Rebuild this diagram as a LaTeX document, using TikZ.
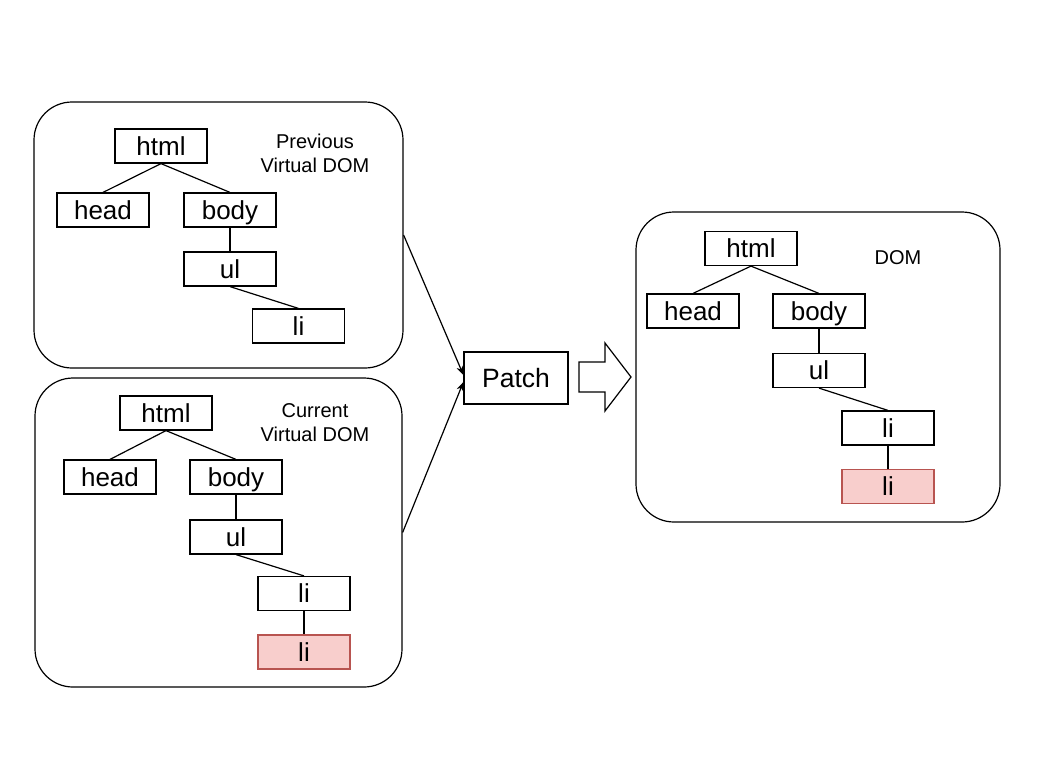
\documentclass[tikz,border=0pt]{standalone}
\usepackage{fontspec}
\setmainfont{Liberation Sans}
\usetikzlibrary{arrows.meta}
\definecolor{redfill}{HTML}{F8CECC}
\definecolor{redline}{HTML}{B85450}
\begin{document}
\begin{tikzpicture}[x=1pt,y=-1pt,line width=1.2pt,
  box/.style={draw, minimum width=92pt, minimum height=34pt, inner sep=0pt,
    text height=18.5pt, text depth=0pt, font=\fontsize{26}{26}\selectfont},
  newbox/.style={box, draw=redline, fill=redfill},
  panel/.style={draw, rounded corners=38pt, inner sep=0pt},
  caption/.style={font=\fontsize{20}{24}\selectfont, align=center},
  link/.style={line width=1.2pt},
  feed/.style={line width=1.2pt, -{Stealth[length=9pt,width=7pt]}}]
\useasboundingbox (0,0) rectangle (1040,780);
% panels
\node[panel, minimum width=369pt, minimum height=266pt] (p1) at (218.5,235) {};
\node[panel, minimum width=367pt, minimum height=309pt] (p2) at (218.5,532.5) {};
\node[panel, minimum width=364pt, minimum height=310pt] (p3) at (818,367) {};
% previous virtual DOM
\node[box] (a1) at (161,146) {html};
\node[box] (a2) at (103,210) {head};
\node[box] (a3) at (230,210) {body};
\node[box] (a4) at (230,269) {ul};
\node[box] (a5) at (298.5,326) {li};
\node[caption] (ta) at (315,153) {Previous\\Virtual DOM};
\draw[link] (a1.south) -- (a2.north);
\draw[link] (a1.south) -- (a3.north);
\draw[link] (a3.south) -- (a4.north);
\draw[link] (a4.south) -- (a5.north);
% current virtual DOM
\node[box] (b1) at (166,413) {html};
\node[box] (b2) at (110,477) {head};
\node[box] (b3) at (236,477) {body};
\node[box] (b4) at (236,537) {ul};
\node[box] (b5) at (304,593.5) {li};
\node[newbox] (b6) at (304,652) {li};
\node[caption] (tb) at (315,423) {Current\\Virtual DOM};
\draw[link] (b1.south) -- (b2.north);
\draw[link] (b1.south) -- (b3.north);
\draw[link] (b3.south) -- (b4.north);
\draw[link] (b4.south) -- (b5.north);
\draw[link] (b5.south) -- (b6.north);
% DOM
\node[box] (c1) at (751,248.5) {html};
\node[box] (c2) at (693,311) {head};
\node[box] (c3) at (819,311) {body};
\node[box] (c4) at (819,370.5) {ul};
\node[box] (c5) at (888,428) {li};
\node[newbox] (c6) at (888,486.5) {li};
\node[font=\fontsize{20}{20}\selectfont] (tc) at (898,258) {DOM};
\draw[link] (c1.south) -- (c2.north);
\draw[link] (c1.south) -- (c3.north);
\draw[link] (c3.south) -- (c4.north);
\draw[link] (c4.south) -- (c5.north);
\draw[link] (c5.south) -- (c6.north);
% patch
\node[draw, minimum width=104pt, minimum height=52pt, inner sep=0pt,
  text height=19pt, text depth=0pt,
  font=\fontsize{26.5}{26.5}\selectfont] (patch) at (516,378) {Patch};
\draw[feed] (p1.east) -- ([yshift=3pt]patch.west);
\draw[feed] (p2.east) -- ([yshift=-4pt]patch.west);
% block arrow
\draw[line width=1.2pt] (579,362) -- (605,362) -- (605,343) -- (631,377)
  -- (605,411) -- (605,392) -- (579,392) -- cycle;
\end{tikzpicture}
\end{document}
